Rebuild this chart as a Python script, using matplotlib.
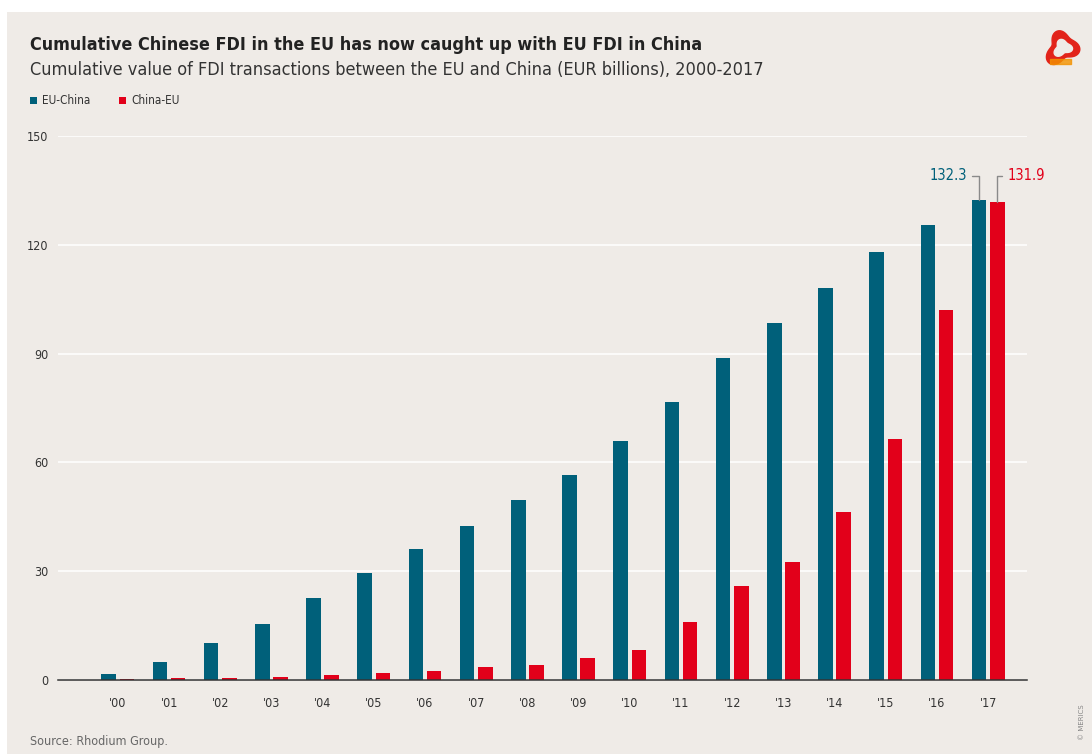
import matplotlib.pyplot as plt
from matplotlib.patches import Rectangle
import numpy as np

years = ["'00", "'01", "'02", "'03", "'04", "'05", "'06", "'07", "'08",
         "'09", "'10", "'11", "'12", "'13", "'14", "'15", "'16", "'17"]
eu_china = [1.7, 5.0, 10.2, 15.4, 22.6, 29.5, 36.1, 42.5, 49.6,
            56.5, 65.9, 76.6, 88.8, 98.4, 108.1, 118.0, 125.4, 132.3]
china_eu = [0.2, 0.5, 0.6, 0.8, 1.4, 1.8, 2.5, 3.5, 4.2,
            6.0, 8.2, 16.0, 26.0, 32.5, 46.3, 66.4, 102.0, 131.9]
yticks = [0, 30, 60, 90, 120, 150]

BLUE = "#00607a"
RED = "#e2001a"
BG = "#efebe7"

FONT = "DejaVu Sans"
ST = "condensed"

fig = plt.figure(figsize=(10.92, 7.54), dpi=100, facecolor="white")
fig.patches.append(Rectangle((7 / 1092, 0), 1, 1 - 12 / 754, transform=fig.transFigure,
                             facecolor=BG, edgecolor="none", zorder=-10))

ax = fig.add_axes([58 / 1092, 1 - 680 / 754, 969 / 1092, 544 / 754])
ax.patch.set_alpha(0)

x = np.arange(len(years))
w = 0.285
off = 0.178
ax.bar(x - off, eu_china, w, color=BLUE, zorder=3)
ax.bar(x + off, china_eu, w, color=RED, zorder=3)

ax.set_xlim(-1.17, 17.76)
ax.set_ylim(0, 150)
ax.set_yticks(yticks)
ax.set_yticklabels([str(t) for t in yticks])
ax.set_xticks(x)
ax.set_xticklabels(years)
ax.tick_params(axis="both", length=0, labelsize=9, colors="#333333")
ax.tick_params(axis="y", pad=7)
ax.tick_params(axis="x", pad=12)
for t in ax.get_yticklabels() + ax.get_xticklabels():
    t.set_family(FONT)
    t.set_stretch(ST)
ax.grid(axis="y", color="white", linewidth=1.1, zorder=1)
for s in ["top", "right", "left"]:
    ax.spines[s].set_visible(False)
ax.spines["bottom"].set_color("#333333")
ax.spines["bottom"].set_linewidth(1.1)
ax.spines["bottom"].set_zorder(4)

# value labels on the last pair
last = len(years) - 1
ax.annotate(f"{eu_china[-1]}", xy=(last - off, eu_china[-1]), xytext=(last - off - 0.24, 139),
            ha="right", va="center", color=BLUE, fontsize=10.5, family=FONT, stretch=ST,
            arrowprops=dict(arrowstyle="-", color="#8a8a8a", lw=1,
                            connectionstyle="angle,angleA=0,angleB=90,rad=0",
                            shrinkA=2, shrinkB=0))
ax.annotate(f"{china_eu[-1]}", xy=(last + off, china_eu[-1]), xytext=(last + off + 0.2, 139),
            ha="left", va="center", color=RED, fontsize=10.5, family=FONT, stretch=ST,
            arrowprops=dict(arrowstyle="-", color="#8a8a8a", lw=1,
                            connectionstyle="angle,angleA=0,angleB=90,rad=0",
                            shrinkA=2, shrinkB=0))

fig.text(30 / 1092, 1 - 45 / 754, "Cumulative Chinese FDI in the EU has now caught up with EU FDI in China",
         fontsize=12.9, fontweight="bold", family=FONT, stretch=ST, color="#222222",
         va="center", ha="left")
fig.text(30 / 1092, 1 - 70 / 754, "Cumulative value of FDI transactions between the EU and China (EUR billions), 2000-2017",
         fontsize=13, family=FONT, stretch=ST, color="#333333", va="center", ha="left")

# legend
fig.patches.append(Rectangle((30 / 1092, 1 - 104 / 754), 7 / 1092, 7 / 754,
                             transform=fig.transFigure, facecolor=BLUE, edgecolor="none"))
fig.text(42 / 1092, 1 - 100 / 754, "EU-China", fontsize=8.5, family=FONT, stretch=ST,
         color="#333333", va="center")
fig.patches.append(Rectangle((119 / 1092, 1 - 104 / 754), 7 / 1092, 7 / 754,
                             transform=fig.transFigure, facecolor=RED, edgecolor="none"))
fig.text(131 / 1092, 1 - 100 / 754, "China-EU", fontsize=8.5, family=FONT, stretch=ST,
         color="#333333", va="center")

fig.text(30 / 1092, 1 - 741 / 754, "Source: Rhodium Group.", fontsize=9, family=FONT, stretch=ST,
         color="#666666", va="center")
fig.text(1082 / 1092, 1 - 722 / 754, "© MERICS", fontsize=5, rotation=90, color="#888888",
         va="center", ha="center")

# logo blob
lx = fig.add_axes([1040 / 1092, 1 - 70 / 754, 44 / 1092, 44 / 754])
lx.axis("off")
t = np.linspace(0, 2 * np.pi, 200)
r = 1 + 0.25 * np.cos(3 * t + 0.6) + 0.1 * np.sin(2 * t)
lx.fill(r * np.cos(t), r * np.sin(t), color="#e2231a")
lx.fill(0.55 * r * np.cos(t) + 0.05, 0.5 * r * np.sin(t), color=BG)
lx.fill_between(np.linspace(-0.8, 0.6, 50), -1.1, -0.75, color="#f39200", alpha=0.8)
lx.set_xlim(-1.5, 1.5)
lx.set_ylim(-1.5, 1.5)

fig.savefig("out.png", dpi=100, facecolor="white")
